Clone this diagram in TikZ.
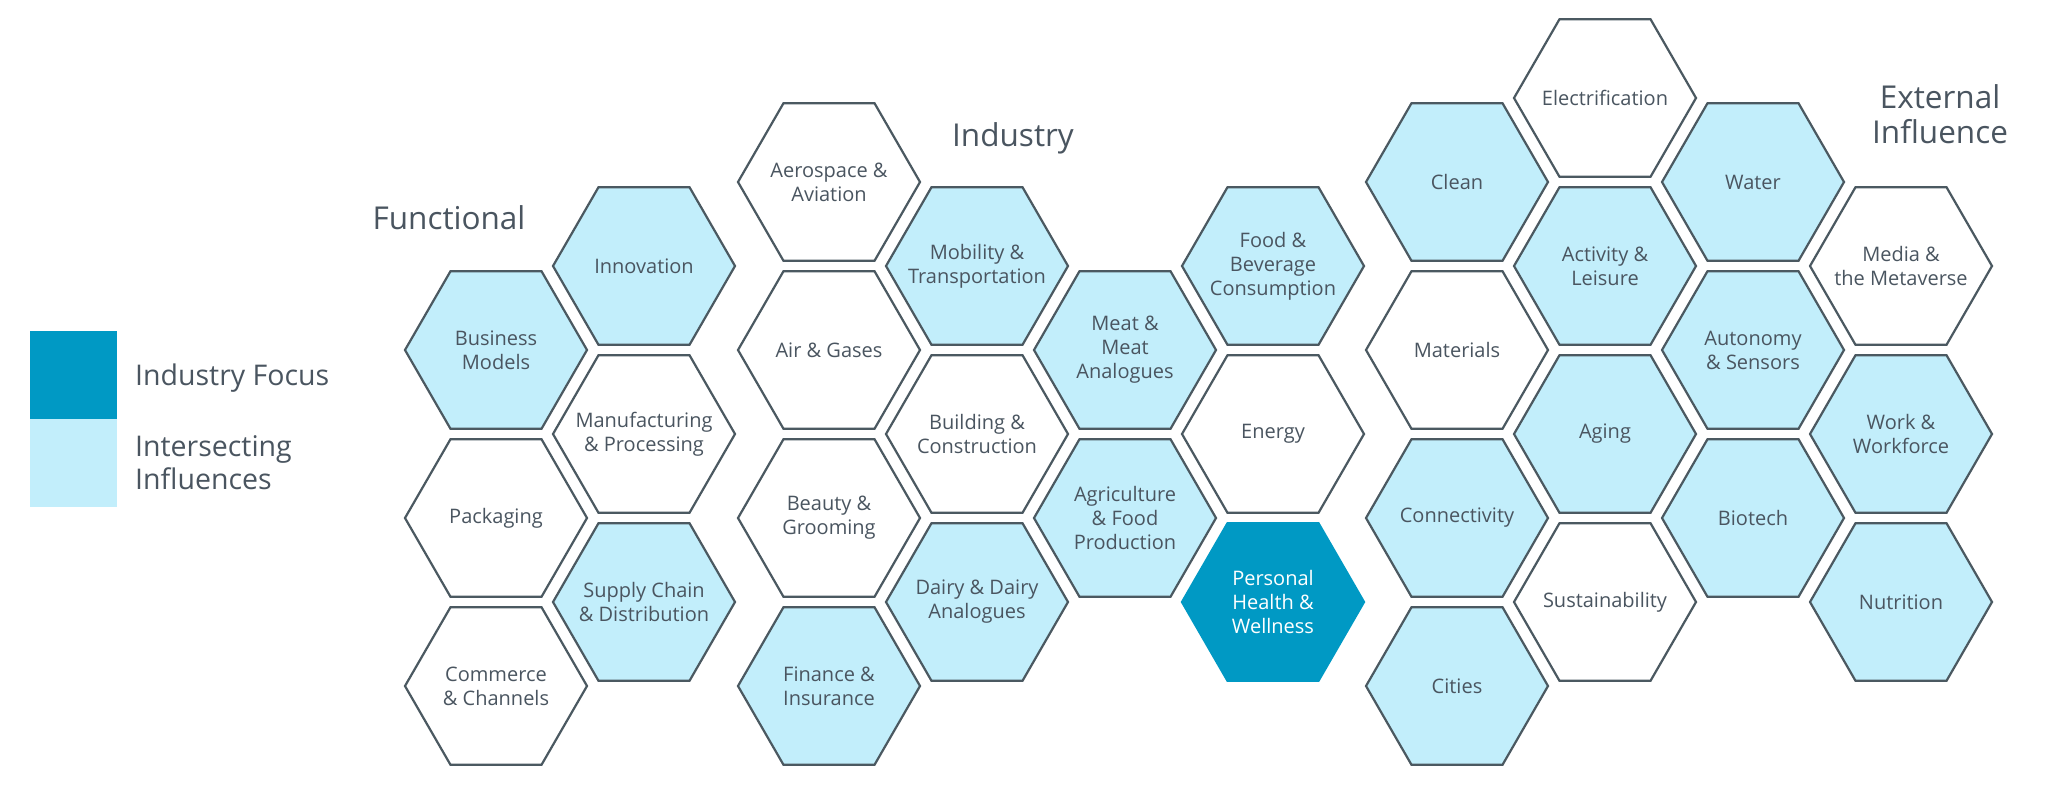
\documentclass[tikz,border=0pt]{standalone}
\usepackage{fontspec}
\setmainfont{Open Sans}
\usetikzlibrary{shapes.geometric}
\definecolor{hexlight}{RGB}{194,238,251}
\definecolor{hexdark}{RGB}{0,153,196}
\definecolor{hexline}{RGB}{75,89,97}
\definecolor{txt}{RGB}{74,85,96}
\tikzset{
  hexbase/.style={regular polygon, regular polygon sides=6, minimum size=182pt,
    inner sep=0pt, outer sep=0pt, draw=hexline, line width=2.2pt},
  hexwhite/.style={hexbase, fill=white},
  hexblue/.style={hexbase, fill=hexlight},
  hexfocus/.style={hexbase, fill=hexdark, draw=hexdark},
  hextext/.style={align=center, font=\fontsize{20}{24}\selectfont, text=txt, inner sep=0pt},
  focustext/.style={hextext, text=white},
  title/.style={font=\fontsize{31.5}{35}\selectfont, text=txt, inner sep=0pt, align=center},
  legtext/.style={font=\fontsize{28.5}{32.5}\selectfont, text=txt, inner sep=0pt, align=left},
  legbox/.style={minimum width=87pt, minimum height=88pt, inner sep=0pt, outer sep=0pt, anchor=north west}
}
\newcommand\hexcell[6][hextext]{\node[#2, label={[#1]center:{#6}}] (#3) at (#4,#5) {};}
\begin{document}
\begin{tikzpicture}[x=1pt,y=-1pt]
\useasboundingbox[fill=white] (0,0) rectangle (2048,790);
% legend
\node[legbox, fill=hexdark] (legfocus) at (30,331) {};
\node[legbox, fill=hexlight] (leginter) at (30,419) {};
\node[legtext, anchor=base west] (legfocustxt) at (135,385) {Industry Focus};
\node[legtext, anchor=base west] (leginter1) at (135,489) {Intersecting\\Influences};
% titles
\node[title, anchor=base] (tfunc) at (449,229.3) {Functional};
\node[title, anchor=base] (tind) at (1013,146.7) {Industry};
\node[title, anchor=base] (text) at (1940,143) {External\\Influence};
% functional
\hexcell{hexblue}{innov}{644}{266}{Innovation}
\hexcell{hexblue}{busmod}{496}{350}{Business\\Models}
\hexcell{hexwhite}{manuf}{644}{434}{Manufacturing\\\& Processing}
\hexcell{hexwhite}{pack}{496}{518}{Packaging}
\hexcell{hexblue}{supply}{644}{602}{Supply Chain\\\& Distribution}
\hexcell{hexwhite}{commerce}{496}{686}{Commerce\\\& Channels}
% industry
\hexcell{hexwhite}{aero}{829}{182}{Aerospace \&\\Aviation}
\hexcell{hexwhite}{air}{829}{350}{Air \& Gases}
\hexcell{hexwhite}{beauty}{829}{518}{Beauty \&\\Grooming}
\hexcell{hexblue}{finance}{829}{686}{Finance \&\\Insurance}
\hexcell{hexblue}{mobility}{977}{266}{Mobility \&\\Transportation}
\hexcell{hexwhite}{building}{977}{434}{Building \&\\Construction}
\hexcell{hexblue}{dairy}{977}{602}{Dairy \& Dairy\\Analogues}
\hexcell{hexblue}{meat}{1125}{350}{Meat \&\\Meat\\Analogues}
\hexcell{hexblue}{agri}{1125}{518}{Agriculture\\\& Food\\Production}
\hexcell{hexblue}{food}{1273}{266}{Food \&\\Beverage\\Consumption}
\hexcell{hexwhite}{energy}{1273}{434}{Energy}
\hexcell[focustext]{hexfocus}{personal}{1273}{602}{Personal\\Health \&\\Wellness}
% external
\hexcell{hexwhite}{elec}{1605}{98}{Electrification}
\hexcell{hexblue}{clean}{1457}{182}{Clean}
\hexcell{hexblue}{water}{1753}{182}{Water}
\hexcell{hexblue}{activity}{1605}{266}{Activity \&\\Leisure}
\hexcell{hexwhite}{media}{1901}{266}{Media \&\\the Metaverse}
\hexcell{hexwhite}{materials}{1457}{350}{Materials}
\hexcell{hexblue}{autonomy}{1753}{350}{Autonomy\\\& Sensors}
\hexcell{hexblue}{aging}{1605}{434}{Aging}
\hexcell{hexblue}{work}{1901}{434}{Work \&\\Workforce}
\hexcell{hexblue}{connect}{1457}{518}{Connectivity}
\hexcell{hexblue}{biotech}{1753}{518}{Biotech}
\hexcell{hexwhite}{sustain}{1605}{602}{Sustainability}
\hexcell{hexblue}{nutrition}{1901}{602}{Nutrition}
\hexcell{hexblue}{cities}{1457}{686}{Cities}
\end{tikzpicture}
\end{document}
